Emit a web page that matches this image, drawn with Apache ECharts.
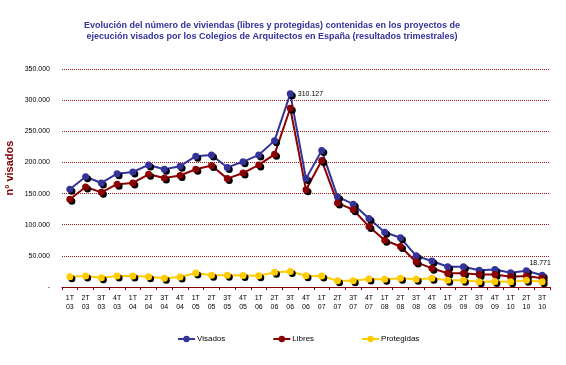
<!DOCTYPE html>
<html>
<head>
<meta charset="utf-8">
<script src="https://cdn.jsdelivr.net/npm/echarts@6/dist/echarts.min.js"></script>
<style>html,body{margin:0;padding:0;background:#fff;}#c{width:566px;height:365px;}</style>
</head>
<body>
<div id="c"></div>
<script>
const categories = ['1T\n03','2T\n03','3T\n03','4T\n03','1T\n04','2T\n04','3T\n04','4T\n04','1T\n05','2T\n05','3T\n05','4T\n05','1T\n06','2T\n06','3T\n06','4T\n06','1T\n07','2T\n07','3T\n07','4T\n07','1T\n08','2T\n08','3T\n08','4T\n08','1T\n09','2T\n09','3T\n09','4T\n09','1T\n10','2T\n10','3T\n10'];
const visados = [157000,177000,167000,182000,184600,196000,189000,194000,210000,212000,192000,201000,212000,235000,310127,174000,219000,145000,133000,110000,88000,79000,50000,41700,32600,32600,27000,28000,23000,26000,18771];
const libres = [141000,160500,152000,165000,167000,181000,175000,179000,189000,195000,174000,183000,196000,213000,287000,156000,203000,135000,124000,97000,75000,65000,40000,30000,22000,22000,20000,20000,16500,17600,14000];
const protegidas = [16500,17600,15000,17600,17600,16500,14000,16000,22500,19000,19000,18500,18000,23500,25000,18000,17500,10000,10000,12800,12500,14000,12500,14000,11000,11000,8500,9000,8500,11000,8500];
const yTicks = [0,50000,100000,150000,200000,250000,300000,350000];

function fmt(v){ if(v===0) return '-'; return String(v).replace(/\B(?=(\d{3})+(?!\d))/g,'.'); }

const FONT = 'Liberation Sans';
const shadow = {shadowColor:'#000', shadowOffsetX:2, shadowOffsetY:2, shadowBlur:0};

function mk(name, data, color, labels){
  return {
    name, type:'line', data: data.map((v,i)=>{
      if(labels && labels[i]) return {value:v, label:Object.assign({show:true, formatter:fmt(v), fontSize:7, color:'#000', fontFamily:FONT}, labels[i])};
      return v;
    }),
    symbol:'circle', symbolSize:7,
    lineStyle:{color, width:2},
    itemStyle:Object.assign({color}, shadow),
    emphasis:{disabled:true}
  };
}

const chart = echarts.init(document.getElementById('c'), null, {renderer:'canvas'});
chart.setOption({
  animation:false,
  backgroundColor:'#fff',
  title:{
    text:'Evolución del número de viviendas (libres y protegidas) contenidas en los proyectos de\nejecución visados por los Colegios de Arquitectos en España (resultados trimestrales)',
    left:267, top:15, textAlign:'center',
    textStyle:{fontSize:9, fontWeight:'bold', color:'#333399', fontFamily:FONT, lineHeight:11}
  },
  legend:{
    left:172, top:330, itemWidth:17, itemHeight:8, itemGap:47,
    textStyle:{fontSize:8, color:'#000', fontFamily:FONT, padding:[0,0,0,-3]},
    itemStyle:{shadowColor:'transparent', shadowOffsetX:0, shadowOffsetY:0},
    data:['Visados','Libres','Protegidas']
  },
  grid:{left:62, right:16, top:69, bottom:78},
  xAxis:{
    type:'category', data:categories, boundaryGap:true,
    axisLine:{lineStyle:{color:'#800000', width:1}},
    axisTick:{show:true, length:3, lineStyle:{color:'#800000'}},
    axisLabel:{interval:0, fontSize:7, color:'#000', fontFamily:FONT, lineHeight:9, margin:7}
  },
  yAxis:{
    type:'value', min:0, max:350000, interval:50000,
    axisLine:{show:false}, axisTick:{show:false},
    axisLabel:{fontSize:7, color:'#000', fontFamily:FONT, margin:12, formatter:fmt},
    splitLine:{lineStyle:{color:'#a01010', type:[1,1], width:1}}
  },
  graphic:[{
    type:'text', x:10, y:168, rotation:Math.PI/2,
    style:{text:'nº visados', fontSize:11, fontWeight:'bold', fill:'#800000', fontFamily:FONT, align:'center', verticalAlign:'middle'}
  }],
  series:[
    mk('Visados', visados, '#333399', {14:{position:'right', distance:4, offset:[0,0]}, 30:{position:'top', distance:5, offset:[-2,0]}}),
    mk('Libres', libres, '#8B0000'),
    mk('Protegidas', protegidas, '#FFCC00')
  ]
});
</script>
</body>
</html>
